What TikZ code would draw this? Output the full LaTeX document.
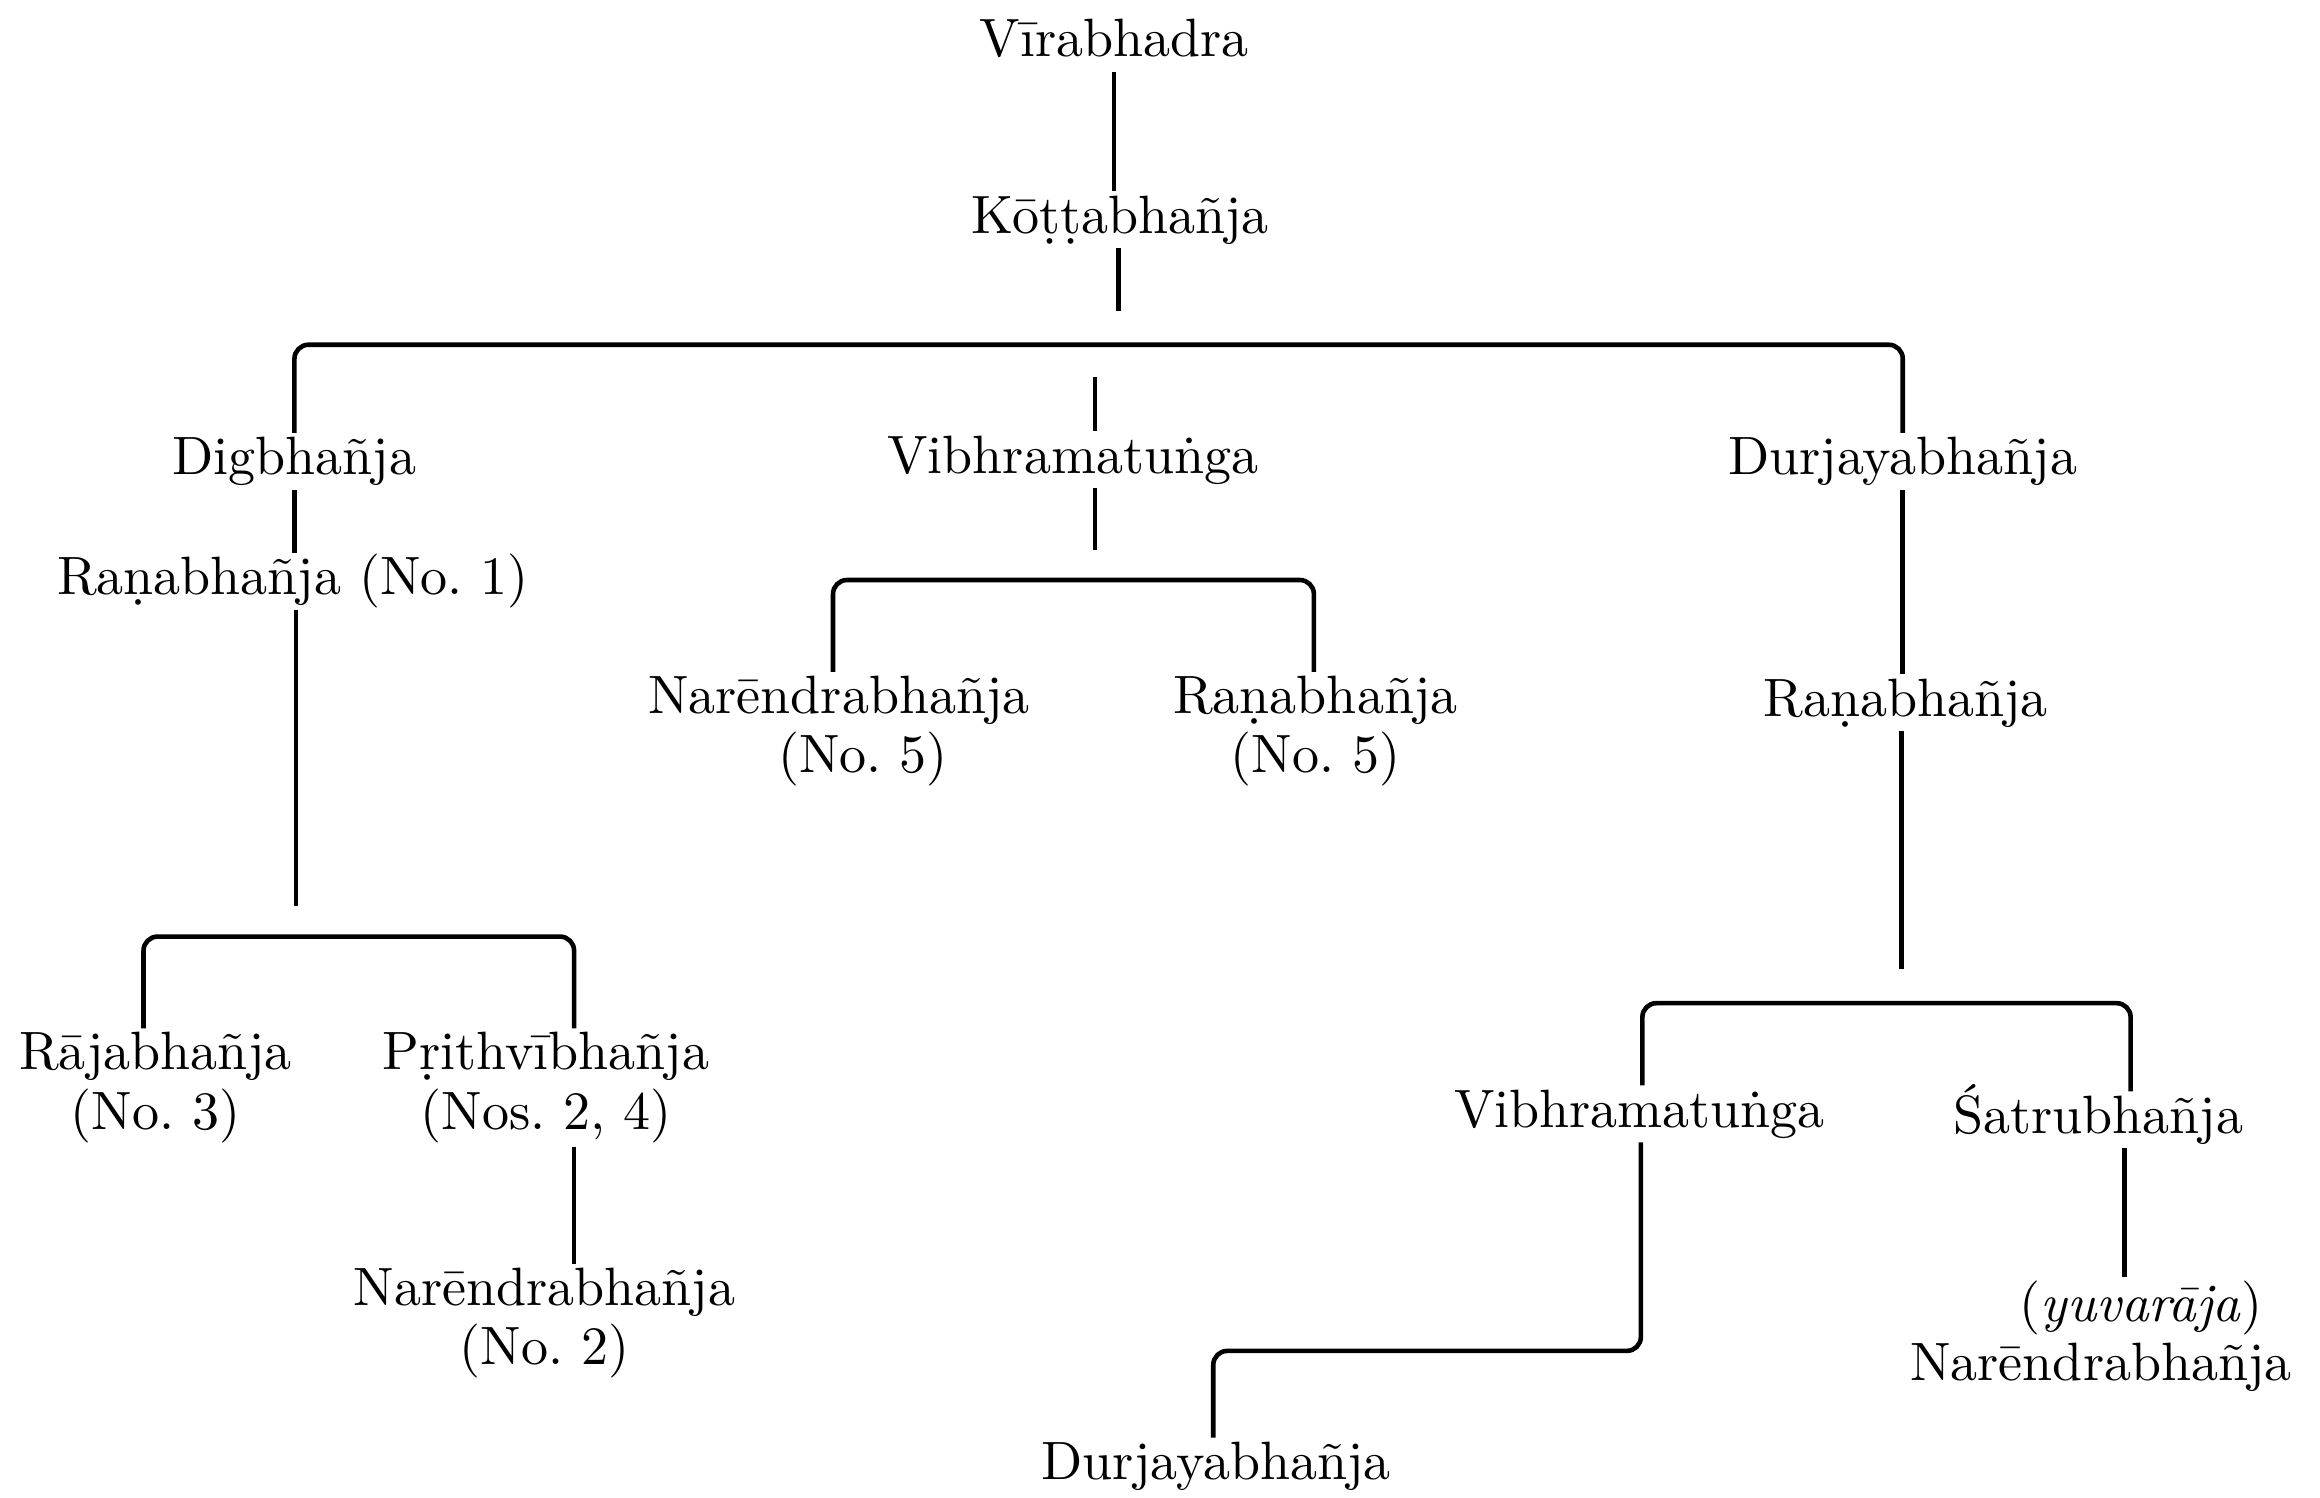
\documentclass[tikz,border=0pt]{standalone}
\usepackage{fontspec}
\setmainfont{lmroman10-regular.otf}[ItalicFont=lmroman10-italic.otf]
\frenchspacing
\begin{document}
\begin{tikzpicture}[x=0.7398pt,y=-0.7398pt,
  every node/.style={font=\fontsize{27}{29.6}\selectfont\frenchspacing, inner sep=2pt, outer sep=0pt},
  nb/.style={anchor=base, text height=19pt, text depth=5.5pt},
  nc/.style={anchor=center, align=center},
  conn/.style={line width=2.3pt, rounded corners=7pt}]
\useasboundingbox[fill=white] (0,0) rectangle (1568,1012);
% nodes
\node[nb] (vir) at (753,38.5) {Vīrabhadra};
\node[nb] (kot) at (757,157.5) {Kōṭṭabhañja};
\node[nb] (dig) at (199,321) {Digbhañja};
\node[nb] (ran1) at (198,402) {Raṇabhañja (No. 1)};
\node[nb] (vib1) at (725,320) {Vibhramatuṅga};
\node[nb] (dur1) at (1286,321) {Durjayabhañja};
\node[nc] (nar5) at (567,494) {Narēndrabhañja\\\hspace*{24pt}(No. 5)};
\node[nc] (ran5) at (889,494) {Raṇabhañja\\(No. 5)};
\node[nb] (ran2) at (1288,484) {Raṇabhañja};
\node[nc] (raj) at (105,735) {Rājabhañja\\(No. 3)};
\node[nc] (pri) at (369,735) {Pṛithvībhañja\\(Nos. 2, 4)};
\node[nc] (nar2) at (368,894) {Narēndrabhañja\\(No. 2)};
\node[nb] (vib2) at (1108,762) {Vibhramatuṅga};
\node[nb] (sat) at (1418,766) {Śatrubhañja};
\node[nc] (yuv) at (1420,903) {\hspace*{40pt}(\textit{yuvarāja})\\Narēndrabhañja};
\node[nb] (dur2) at (822,1000) {Durjayabhañja};
% coordinates
\coordinate (kotE) at (756,210);
\coordinate (mainbar) at (757,233);
\coordinate (vibT) at (740,255);
\coordinate (vibB) at (740,372);
\coordinate (midL) at (563,392);
\coordinate (midR) at (888,392);
\coordinate (ran1E) at (200,612);
\coordinate (lbarL) at (97,633);
\coordinate (lbarR) at (388,633);
\coordinate (ran2E) at (1285,655);
\coordinate (rbarL) at (1110,678);
\coordinate (rbarR) at (1440,678);
\coordinate (lowR) at (1109,913);
\coordinate (lowL) at (820,913);
\coordinate (satX) at (1436,780);
% connectors
\draw[conn] (vir.south) -- (vir.south |- kot.north);
\draw[conn] (kotE |- kot.south) -- (kotE);
\draw[conn] (dig.north) -- (dig.north |- mainbar) -- (dur1.north |- mainbar) -- (dur1.north);
\draw[conn] (vibT) -- (vibT |- vib1.north);
\draw[conn] (vibB |- vib1.south) -- (vibB);
\draw[conn] (midL |- nar5.north) -- (midL) -- (midR) -- (midR |- ran5.north);
\draw[conn] (dig.south) -- (dig.south |- ran1.north);
\draw[conn] (ran1E |- ran1.south) -- (ran1E);
\draw[conn] (lbarL |- raj.north) -- (lbarL) -- (lbarR) -- (lbarR |- pri.north);
\draw[conn] (lbarR |- pri.south) -- (lbarR |- nar2.north);
\draw[conn] (dur1.south) -- (dur1.south |- ran2.north);
\draw[conn] (ran2E |- ran2.south) -- (ran2E);
\draw[conn] (rbarL |- vib2.north) -- (rbarL) -- (rbarR) -- (rbarR |- sat.north);
\draw[conn] (lowR |- vib2.south) -- (lowR) -- (lowL) -- (lowL |- dur2.north);
\draw[conn] (satX |- sat.south) -- (satX |- yuv.north);
\end{tikzpicture}
\end{document}
